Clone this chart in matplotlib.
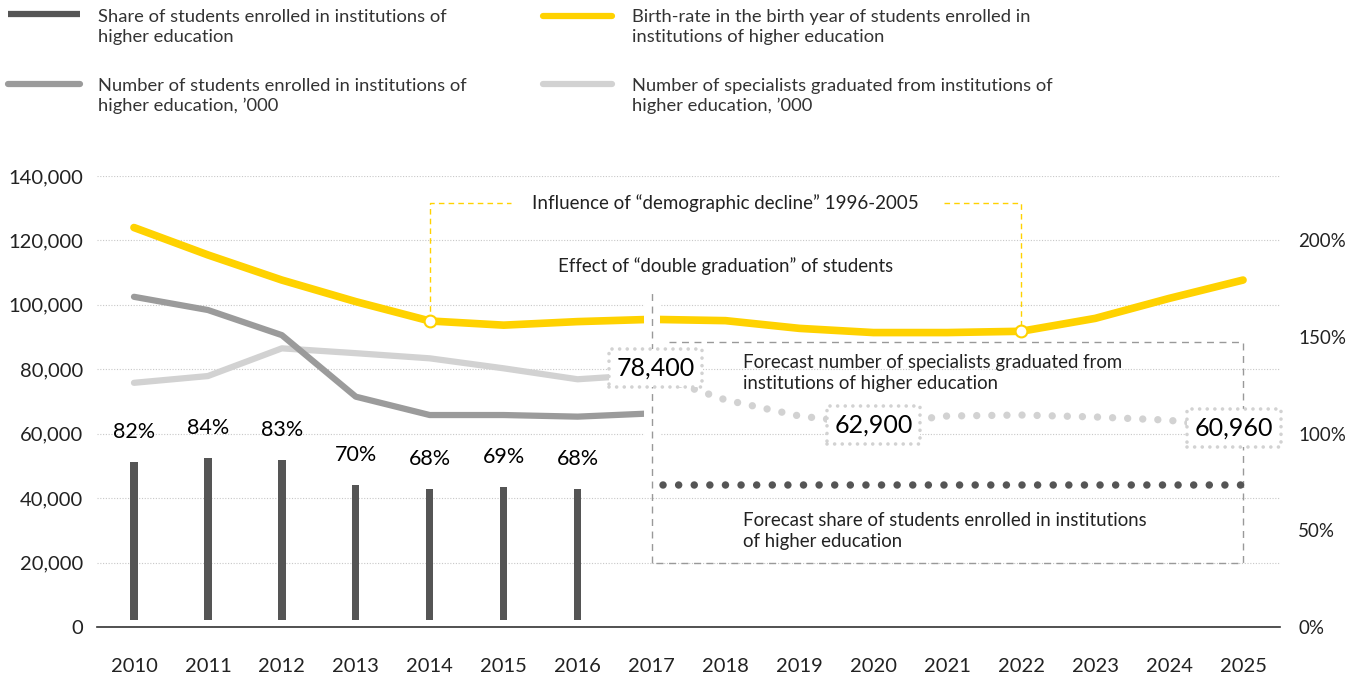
import matplotlib
matplotlib.use("Agg")
import matplotlib.pyplot as plt
from matplotlib.lines import Line2D

plt.rcParams['font.family'] = ['Lato', 'DejaVu Sans']

# data
years = list(range(2010, 2026))
birth_rate = [124000, 115500, 107700, 101000, 95000, 93700, 94800, 95500,
              95100, 92700, 91400, 91400, 91800, 95800, 102000, 107700]

actual_years = list(range(2010, 2018))
students = [102500, 98400, 90600, 71500, 65800, 65800, 65300, 66300]
specialists = [75800, 77900, 86500, 85000, 83400, 80300, 76900, 78400]

share_years = list(range(2010, 2017))
share = [82, 84, 83, 70, 68, 69, 68]

forecast_years = list(range(2017, 2026))
specialists_forecast = [78400, 70500, 65500, 62900, 65500, 65800, 65200, 64200, 60960]
boxed_years = [2017, 2020, 2025]

share_forecast_years = [2017, 2025]
share_forecast = [73.4, 73.4]

marked_years = [2014, 2022]

legend_labels = [
    "Share of students enrolled in institutions of\nhigher education",
    "Birth-rate in the birth year of students enrolled in\ninstitutions of higher education",
    "Number of students enrolled in institutions of\nhigher education, \u2019000",
    "Number of specialists graduated from institutions of\nhigher education, \u2019000",
]

YELLOW = '#FFD200'
DARK = '#555555'
MID = '#9B9B9B'
LIGHT = '#D2D2D2'
TXT = '#222222'

W, H = 1363, 680
fig = plt.figure(figsize=(W / 100, H / 100), dpi=100)
ax = fig.add_axes([97 / W, 1 - 627 / H, (1280 - 97) / W, (627 - 176) / H])
ax2 = ax.twinx()

ax.set_xlim(2009.5, 2025.5)
ax.set_ylim(0, 140000)
ax2.set_ylim(0, 140000 / 600)

for a in (ax, ax2):
    for s in a.spines.values():
        s.set_visible(False)
ax.spines['bottom'].set_visible(True)
ax.spines['bottom'].set_color('#333333')
ax.spines['bottom'].set_linewidth(1.2)

ax.set_yticks(range(0, 140001, 20000))
ax.set_yticklabels([f"{v:,}" for v in range(0, 140001, 20000)])
ax.set_xticks(years)
ax.set_xticklabels([str(y) for y in years])
ax.tick_params(axis='y', length=0, pad=10, labelsize=14.5, labelcolor=TXT)
ax.tick_params(axis='x', length=0, pad=22, labelsize=14.5, labelcolor=TXT)
ax2.set_yticks([0, 50, 100, 150, 200])
ax2.set_yticklabels([f"{v}%" for v in [0, 50, 100, 150, 200]])
ax2.tick_params(axis='y', length=0, pad=13, labelsize=13.5, labelcolor=TXT)

ax.yaxis.grid(True, color='#C8C8C8', lw=0.8, ls=(0, (1, 1.5)))
ax.set_axisbelow(True)

# lines
ax.plot(years, birth_rate, color=YELLOW, lw=5.5, solid_capstyle='round',
        solid_joinstyle='round', zorder=3)
ax.plot(actual_years, specialists, color=LIGHT, lw=4.5, solid_capstyle='round',
        solid_joinstyle='round', zorder=3)
ax.plot(actual_years, students, color=MID, lw=4.5, solid_capstyle='round',
        solid_joinstyle='round', zorder=3.2)
ax.plot(forecast_years, specialists_forecast, color=LIGHT, lw=5.3,
        ls=(0, (0.001, 2.05)), dash_capstyle='round', zorder=3)

# gap at the double-graduation line
ax.axvline(2017, ymin=60000 / 140000, ymax=101000 / 140000, color='white', lw=11.5, zorder=4)
ax.axvline(2017, ymin=20000 / 140000, ymax=105200 / 140000, color='#999999', lw=1,
           ls=(0, (5, 4)), zorder=5)
ax.plot([2017.23, 2025, 2025, 2017], [88500, 88500, 20000, 20000], color='#999999',
        lw=1, ls=(0, (5, 4)), zorder=5)

# demographic decline bracket
i1, i2 = years.index(marked_years[0]), years.index(marked_years[1])
ax.plot([2014, 2014, 2015.1], [birth_rate[i1], 131600, 131600], color=YELLOW, lw=1,
        ls=(0, (4, 3)), zorder=2)
ax.plot([2020.95, 2022, 2022], [131600, 131600, birth_rate[i2]], color=YELLOW, lw=1,
        ls=(0, (4, 3)), zorder=2)
ax.plot(marked_years, [birth_rate[i1], birth_rate[i2]], 'o', mfc='white', mec=YELLOW,
        ms=8.5, mew=1.5, zorder=6)

ax.text(2018.0, 131600, "Influence of \u201cdemographic decline\u201d 1996-2005", ha='center',
        va='center', fontsize=13.5, color=TXT)
ax.text(2018.0, 112050, "Effect of \u201cdouble graduation\u201d of students", ha='center',
        va='center', fontsize=13.4, color=TXT)
ax.text(2018.24, 78840, "Forecast number of specialists graduated from\ninstitutions of higher education",
        ha='left', va='center', fontsize=13.4, color=TXT, linespacing=1.3, zorder=6)
ax.text(2018.24, 29800, "Forecast share of students enrolled in institutions\nof higher education",
        ha='left', va='center', fontsize=13.4, color=TXT, linespacing=1.3, zorder=6)

# value boxes
offsets = {2017: (4, 6), 2020: (0, -1), 2025: (-9, 3)}
for yr in boxed_years:
    v = specialists_forecast[forecast_years.index(yr)]
    ax.annotate(f"{v:,}", (yr, v), xytext=offsets[yr], textcoords='offset pixels',
                ha='center', va='center', fontsize=18, color='black', zorder=7,
                bbox=dict(boxstyle='square,pad=0.3', fc='white', ec=LIGHT, lw=2.6,
                          ls=(0, (0.01, 2.1)), capstyle='round'))

# share bars
ax2.bar(share_years, share, bottom=3.5, width=0.1, color=DARK, zorder=3)
for yr, v in zip(share_years, share):
    ax2.annotate(f"{v}%", (yr, v + 3.5), xytext=(0, 30), textcoords='offset pixels',
                 ha='center', va='center', fontsize=15.5, color='black')
ax2.plot(share_forecast_years, share_forecast, color=DARK, lw=5.4,
         ls=(0.61, (0.001, 2.08)), dash_capstyle='round', zorder=3)

# legend
legend_pos = [(8, 80, 98, 14, 27), (543, 612, 632, 16, 27), (8, 80, 98, 84, 96), (543, 612, 632, 84, 96)]
legend_colors = [DARK, YELLOW, MID, LIGHT]
for (x0, x1, tx, ly, ty), c, lab in zip(legend_pos, legend_colors, legend_labels):
    cap = 'butt' if c == DARK else 'round'
    fig.add_artist(Line2D([x0 / W, x1 / W], [1 - ly / H, 1 - ly / H], transform=fig.transFigure,
                          color=c, lw=4.5, solid_capstyle=cap))
    fig.text(tx / W, 1 - ty / H, lab, ha='left', va='center', fontsize=13.2, color='#333333',
             linespacing=1.3)

fig.savefig("out.png", dpi=100)
